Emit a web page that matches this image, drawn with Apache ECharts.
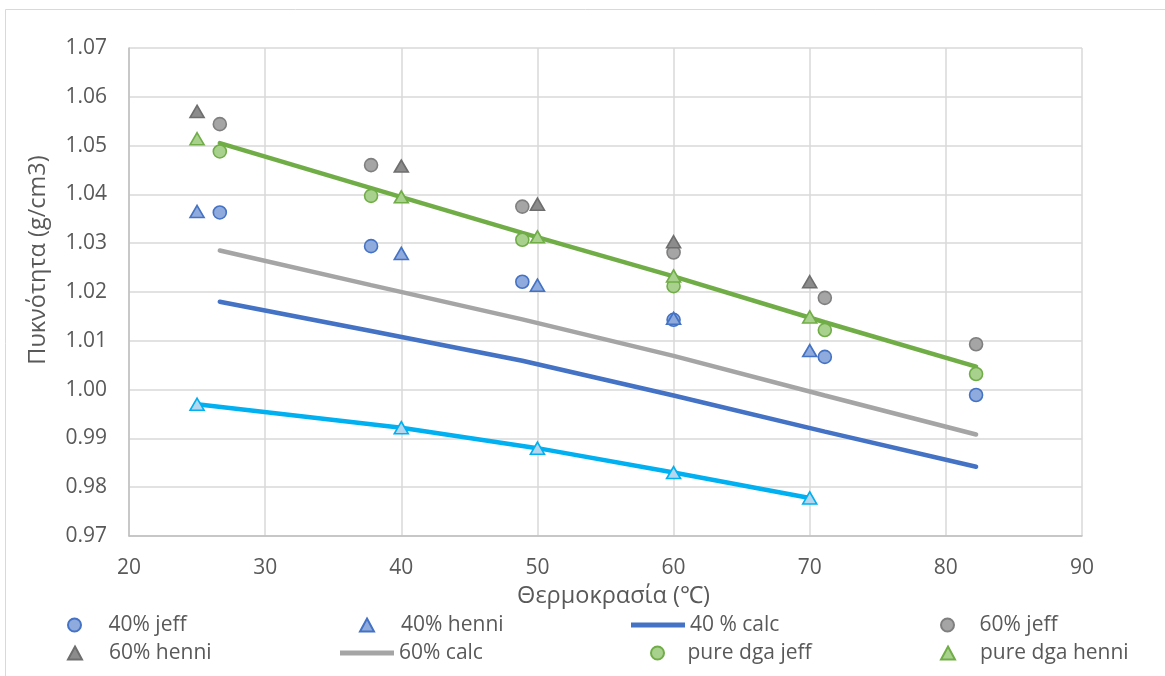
<!DOCTYPE html>
<html>
<head>
<meta charset="utf-8">
<script src="https://cdn.jsdelivr.net/npm/echarts@6/dist/echarts.min.js"></script>
<style>
  html, body { margin: 0; padding: 0; background: #ffffff; }
  #chart { width: 1165px; height: 676px; }
</style>
</head>
<body>
<div id="chart"></div>
<script>
// Temperatures (°C) of the two measurement sets
const tempJeff = [26.67, 37.78, 48.89, 60.00, 71.11, 82.22];
const tempHenni = [25, 40, 50, 60, 70];

// Densities (g/cm3)
const jeff40 = [1.0363, 1.0294, 1.0221, 1.0143, 1.0067, 0.9989];
const henni40 = [1.0365, 1.0279, 1.0214, 1.0146, 1.0080];
const calc40 = [1.0180, 1.0120, 1.0059, 0.9988, 0.9914, 0.9842];
const jeff60 = [1.0544, 1.0460, 1.0375, 1.0281, 1.0188, 1.0093];
const henni60 = [1.0570, 1.0458, 1.0380, 1.0303, 1.0221];
const calc60 = [1.0285, 1.0214, 1.0144, 1.0069, 0.9988, 0.9908];
const jeffPure = [1.0488, 1.0397, 1.0307, 1.0212, 1.0122, 1.0032];
const henniPure = [1.0514, 1.0395, 1.0313, 1.0233, 1.0149];
const calcPure = [1.0505, 1.0413, 1.0321, 1.0232, 1.0138, 1.0047];
const waterHenni = [0.9970, 0.9922, 0.9880, 0.9830, 0.9778];

// Axis ranges
const xMin = 20, xMax = 90, xStep = 10;
const yMin = 0.97, yMax = 1.07, yStep = 0.01;

const FONT = 'Open Sans';
const TXT = '#595959';
const TICK_SIZE = 21;
const TITLE_SIZE = 23.5;
const LEGEND_SIZE = 21;

function pairs(xs, ys) { return ys.map((y, i) => [xs[i], y]); }

const blue = { fill: '#8faadc', stroke: '#4472c4' };
const gray = { fill: '#a5a5a5', stroke: '#7f7f7f' };
const grayTri = { fill: '#8c8c8c', stroke: '#6e6e6e' };
const green = { fill: '#a9d18e', stroke: '#70ad47' };

function scatter(name, xs, ys, symbol, c, z) {
  return {
    name, type: 'scatter', data: pairs(xs, ys),
    symbol, symbolSize: symbol === 'circle' ? 13 : [14, 12],
    itemStyle: { color: c.fill, borderColor: c.stroke, borderWidth: 1.6, opacity: 1 },
    z
  };
}
function calcLine(name, xs, ys, color) {
  return {
    name, type: 'line', data: pairs(xs, ys), symbol: 'none',
    lineStyle: { color, width: 4.5, cap: 'round' },
    itemStyle: { color }, z: 2
  };
}

const series = [
  calcLine('40 % calc', tempJeff, calc40, '#4472c4'),
  calcLine('60% calc', tempJeff, calc60, '#a5a5a5'),
  calcLine('pure dga calc', tempJeff, calcPure, '#70ad47'),
  {
    name: 'water henni', type: 'line', data: pairs(tempHenni, waterHenni),
    symbol: 'triangle', symbolSize: [14, 12],
    lineStyle: { color: '#00b0f0', width: 4.5 },
    itemStyle: { color: '#b4d6ee', borderColor: '#00b0f0', borderWidth: 1.6 }, z: 3
  },
  scatter('40% jeff', tempJeff, jeff40, 'circle', blue, 4),
  scatter('40% henni', tempHenni, henni40, 'triangle', blue, 5),
  scatter('60% jeff', tempJeff, jeff60, 'circle', gray, 6),
  scatter('60% henni', tempHenni, henni60, 'triangle', grayTri, 7),
  scatter('pure dga jeff', tempJeff, jeffPure, 'circle', green, 8),
  scatter('pure dga henni', tempHenni, henniPure, 'triangle', green, 9)
];

// One legend block per entry, laid out in a 4 x 2 table
function legendItem(name, left, top, textPad, extra) {
  return Object.assign({
    data: [name], left, top, orient: 'horizontal', padding: 0,
    itemWidth: 14, itemHeight: 13,
    selectedMode: false,
    textStyle: { fontFamily: FONT, fontSize: LEGEND_SIZE, color: TXT, lineHeight: 24, padding: [0, 0, 0, textPad] }
  }, extra || {});
}
const lineIcon = { icon: 'rect', itemWidth: 54, itemHeight: 5 };

const legends = [
  legendItem('40% jeff', 67, 613, 22),
  legendItem('40% henni', 359, 613, 22),
  legendItem('40 % calc', 631, 613, 0, lineIcon),
  legendItem('60% jeff', 940, 613, 20),
  legendItem('60% henni', 67, 641, 22),
  legendItem('60% calc', 340, 641, 0, lineIcon),
  legendItem('pure dga jeff', 650, 641, 18),
  legendItem('pure dga henni', 940, 641, 20)
];

const chart = echarts.init(document.getElementById('chart'), null, { renderer: 'canvas' });
chart.setOption({
  backgroundColor: '#ffffff',
  animation: false,
  textStyle: { fontFamily: FONT },
  graphic: [
    {
      type: 'rect', silent: true, z: -10,
      shape: { x: 5.5, y: 9.5, width: 1300, height: 1000 },
      style: { fill: 'none', stroke: '#d9d9d9', lineWidth: 1 }
    },
    {
      // vertical axis title
      type: 'text', silent: true, x: 38, y: 260, rotation: Math.PI / 2,
      style: {
        text: 'Πυκνότητα (g/cm3)', fontFamily: FONT, fontSize: TITLE_SIZE,
        fill: TXT, align: 'center', verticalAlign: 'middle'
      }
    }
  ],
  grid: { left: 129, top: 48, right: 83, bottom: 140, containLabel: false },
  legend: legends,
  xAxis: {
    type: 'value', min: xMin, max: xMax, interval: xStep,
    name: 'Θερμοκρασία (℃)', nameLocation: 'middle', nameGap: 46,
    nameTextStyle: { fontFamily: FONT, fontSize: TITLE_SIZE, color: TXT, padding: [0, 0, 0, 16] },
    axisLine: { show: true, lineStyle: { color: '#bfbfbf', width: 1.5 } },
    axisTick: { show: false },
    axisLabel: { fontFamily: FONT, fontSize: TICK_SIZE, color: TXT, margin: 22 },
    splitLine: { show: true, lineStyle: { color: '#d9d9d9', width: 1.5 } }
  },
  yAxis: {
    type: 'value', min: yMin, max: yMax, interval: yStep,
    axisLine: { show: true, lineStyle: { color: '#bfbfbf', width: 1.5 } },
    axisTick: { show: false },
    axisLabel: { fontFamily: FONT, fontSize: TICK_SIZE, color: TXT, margin: 22, formatter: v => v.toFixed(2) },
    splitLine: { show: true, lineStyle: { color: '#d9d9d9', width: 1.5 } }
  },
  series
});
</script>
</body>
</html>
